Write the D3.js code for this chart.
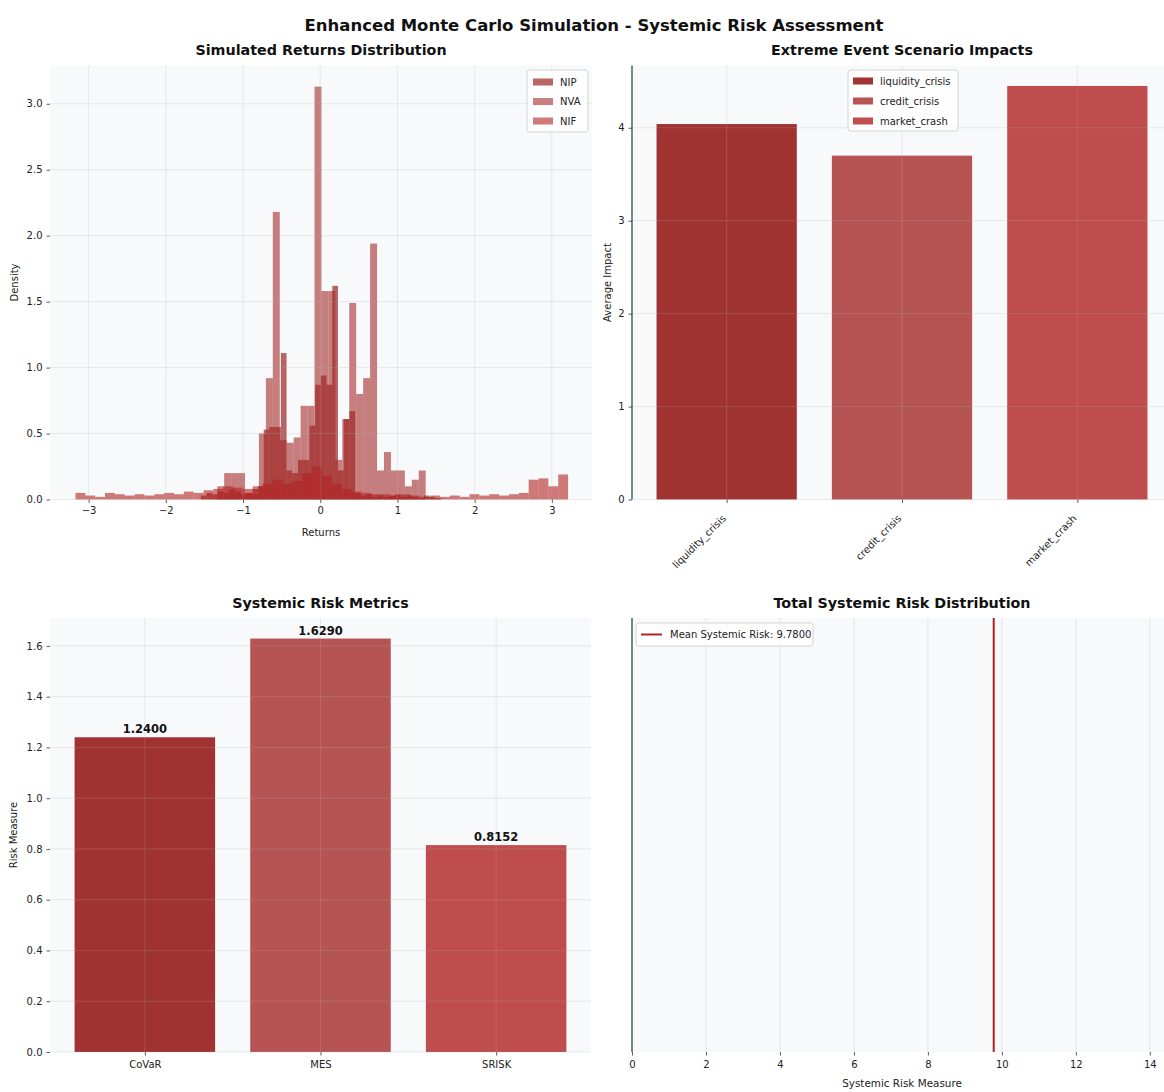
<!DOCTYPE html>
<html>
<head>
<meta charset="utf-8">
<script src="https://cdn.jsdelivr.net/npm/d3@7"></script>
<style>
  html, body { margin: 0; padding: 0; background: #ffffff; }
  svg { display: block; font-family: "DejaVu Sans", sans-serif; }
</style>
</head>
<body>
<svg id="chart" width="1164" height="1092"></svg>
<script>
// ---- Simulated return densities (histogram bins) ----
const returnSeries = ["NIP", "NVA", "NIF"];

const nipStart = -1.546, nipWidth = 0.074;
const nipDensity = [0.03, 0.05, 0.04, 0.06, 0.05, 0.08, 0.06, 0.04, 0.05, 0.08,
                    0.10, 0.53, 0.55, 0.55, 1.11, 0.22, 0.20, 0.30, 0.30, 0.56,
                    0.87, 0.94, 0.87, 1.62, 0.22, 0.61, 0.67, 0.05, 0.03, 0.04,
                    0.02, 0.03, 0.02, 0.03, 0.04, 0.02, 0.03, 0.02, 0.01, 0.03,
                    0.02, 0.01];

const nvaStart = -1.334, nvaWidth = 0.09;
const nvaDensity = [0.10, 0.20, 0.20, 0.20, 0.05, 0.04, 0.50, 0.92, 2.18, 0.45,
                    0.43, 0.47, 0.71, 0.71, 3.13, 1.58, 1.58, 0.30, 0.61, 1.49,
                    0.80, 0.92, 1.94, 0.22, 0.36, 0.22, 0.22, 0.10, 0.15, 0.22];

const nifStart = -3.17, nifWidth = 0.1276;
const nifDensity = [0.05, 0.03, 0.02, 0.05, 0.04, 0.03, 0.04, 0.03, 0.04, 0.05,
                    0.04, 0.06, 0.05, 0.07, 0.08, 0.10, 0.09, 0.08, 0.10, 0.12,
                    0.15, 0.12, 0.14, 0.20, 0.25, 0.18, 0.12, 0.08, 0.06, 0.05,
                    0.04, 0.04, 0.03, 0.04, 0.03, 0.02, 0.03, 0.02, 0.03, 0.02,
                    0.04, 0.03, 0.04, 0.03, 0.04, 0.05, 0.15, 0.16, 0.10, 0.19];

const returnTicks = [-3, -2, -1, 0, 1, 2, 3];
const densityTicks = [0.0, 0.5, 1.0, 1.5, 2.0, 2.5, 3.0];

// ---- Extreme event scenarios ----
const scenarios = ["liquidity_crisis", "credit_crisis", "market_crash"];
const scenarioImpact = [4.04, 3.70, 4.45];
const impactTicks = [0, 1, 2, 3, 4];

// ---- Systemic risk metrics ----
const metrics = ["CoVaR", "MES", "SRISK"];
const metricValues = [1.2400, 1.6290, 0.8152];
const metricTicks = [0.0, 0.2, 0.4, 0.6, 0.8, 1.0, 1.2, 1.4, 1.6];

// ---- Total systemic risk ----
const meanSystemicRisk = 9.78;
const systemicTicks = [0, 2, 4, 6, 8, 10, 12, 14];

// ---- Styling ----
const palette = ["#8B0000", "#A52A2A", "#B22222"];
const axesBg = "#f8f9fa";
const spineColor = "#4f6f6f";

const svg = d3.select("#chart");

function panelFrame(x0, x1, y0, y1) {
  svg.append("rect").attr("x", x0).attr("y", y0)
    .attr("width", x1 - x0).attr("height", y1 - y0).attr("fill", axesBg);
}

function gridX(g, scale, ticks, y0, y1) {
  g.selectAll(null).data(ticks).enter().append("line")
    .attr("x1", d => scale(d)).attr("x2", d => scale(d))
    .attr("y1", y0).attr("y2", y1)
    .attr("stroke", "#b0b0b0").attr("stroke-opacity", 0.3).attr("stroke-width", 0.8);
}
function gridY(g, scale, ticks, x0, x1) {
  g.selectAll(null).data(ticks).enter().append("line")
    .attr("y1", d => scale(d)).attr("y2", d => scale(d))
    .attr("x1", x0).attr("x2", x1)
    .attr("stroke", "#b0b0b0").attr("stroke-opacity", 0.3).attr("stroke-width", 0.8);
}

function styleAxis(g) {
  g.select(".domain").remove();
  g.selectAll(".tick line").attr("stroke", "#333").attr("stroke-width", 0.8);
  g.selectAll(".tick text").attr("fill", "#222").attr("font-size", 10)
    .attr("font-family", "DejaVu Sans");
}

function subTitle(text, cx, y) {
  svg.append("text").attr("x", cx).attr("y", y).attr("text-anchor", "middle")
    .attr("font-size", 14.3).attr("font-weight", "bold").attr("fill", "#111").text(text);
}

function legendBox(x, y, w, h) {
  svg.append("rect").attr("x", x).attr("y", y).attr("width", w).attr("height", h)
    .attr("rx", 3).attr("fill", "#ffffff").attr("fill-opacity", 0.8)
    .attr("stroke", "#cccccc").attr("stroke-width", 0.8);
}

// Main title
svg.append("text").attr("x", 594).attr("y", 31).attr("text-anchor", "middle")
  .attr("font-size", 16.5).attr("font-weight", "bold").attr("fill", "#111")
  .text("Enhanced Monte Carlo Simulation - Systemic Risk Assessment");

// ================= Panel 1: returns histogram =================
{
  const L = 50, R = 592, T = 65.5, B = 499.5;
  panelFrame(L, R, T, B);
  const x = d3.scaleLinear().domain([-3.5, 3.52]).range([L, R]);
  const y = d3.scaleLinear().domain([0, 3.29]).range([B, T]);

  const series = [
    { name: returnSeries[0], start: nipStart, width: nipWidth, values: nipDensity },
    { name: returnSeries[1], start: nvaStart, width: nvaWidth, values: nvaDensity },
    { name: returnSeries[2], start: nifStart, width: nifWidth, values: nifDensity }
  ];
  series.forEach((s, si) => {
    const bins = s.values.map((v, i) => ({ x0: s.start + i * s.width, x1: s.start + (i + 1) * s.width, v }));
    svg.append("g").selectAll("rect").data(bins).enter().append("rect")
      .attr("x", d => x(d.x0)).attr("width", d => x(d.x1) - x(d.x0))
      .attr("y", d => y(d.v)).attr("height", d => y(0) - y(d.v))
      .attr("fill", palette[si]).attr("fill-opacity", 0.6);
  });

  const grid = svg.append("g");
  gridX(grid, x, returnTicks, T, B);
  gridY(grid, y, densityTicks, L, R);

  const ax = svg.append("g").attr("transform", `translate(0,${B})`)
    .call(d3.axisBottom(x).tickValues(returnTicks).tickFormat(d3.format("d")).tickSize(3.5).tickPadding(4));
  styleAxis(ax);
  ax.selectAll(".tick text").text(d => d < 0 ? "\u2212" + Math.abs(d) : d);
  const ay = svg.append("g").attr("transform", `translate(${L},0)`)
    .call(d3.axisLeft(y).tickValues(densityTicks).tickFormat(d3.format(".1f")).tickSize(3.5).tickPadding(4));
  styleAxis(ay);

  svg.append("text").attr("x", (L + R) / 2).attr("y", 536).attr("text-anchor", "middle")
    .attr("font-size", 10).attr("fill", "#222").text("Returns");
  svg.append("text").attr("transform", `translate(18,${(T + B) / 2}) rotate(-90)`)
    .attr("text-anchor", "middle").attr("font-size", 10).attr("fill", "#222").text("Density");

  subTitle("Simulated Returns Distribution", (L + R) / 2, 55);

  legendBox(527, 70, 61, 62);
  returnSeries.forEach((n, i) => {
    const yy = 82 + i * 19.5;
    svg.append("rect").attr("x", 533).attr("y", yy - 3.5).attr("width", 20).attr("height", 7)
      .attr("fill", palette[i]).attr("fill-opacity", 0.6);
    svg.append("text").attr("x", 560).attr("y", yy + 3.5).attr("font-size", 10)
      .attr("fill", "#222").text(n);
  });
}

// ================= Panel 2: scenario impacts =================
{
  const L = 632, R = 1172, T = 65.5, B = 499.5;
  panelFrame(L, R, T, B);
  const x = d3.scaleLinear().domain([-0.54, 2.54]).range([L, R]);
  const y = d3.scaleLinear().domain([0, 4.67]).range([B, T]);

  svg.append("g").selectAll("rect").data(scenarioImpact).enter().append("rect")
    .attr("x", (d, i) => x(i - 0.4)).attr("width", (d, i) => x(i + 0.4) - x(i - 0.4))
    .attr("y", d => y(d)).attr("height", d => y(0) - y(d))
    .attr("fill", (d, i) => palette[i]).attr("fill-opacity", 0.8);

  const grid = svg.append("g");
  gridX(grid, x, [0, 1, 2], T, B);
  gridY(grid, y, impactTicks, L, R);

  svg.append("line").attr("x1", L).attr("x2", L).attr("y1", T).attr("y2", B)
    .attr("stroke", spineColor).attr("stroke-width", 1.6);

  const ax = svg.append("g").attr("transform", `translate(0,${B})`)
    .call(d3.axisBottom(x).tickValues([0, 1, 2]).tickFormat(i => scenarios[i]).tickSize(3.5).tickPadding(4));
  styleAxis(ax);
  ax.selectAll(".tick text")
    .attr("text-anchor", "end")
    .attr("x", 0).attr("y", 0).attr("dy", "0.35em")
    .attr("transform", "translate(-3,17) rotate(-45)");
  const ay = svg.append("g").attr("transform", `translate(${L},0)`)
    .call(d3.axisLeft(y).tickValues(impactTicks).tickFormat(d3.format("d")).tickSize(3.5).tickPadding(4));
  styleAxis(ay);

  svg.append("text").attr("transform", `translate(611,${(T + B) / 2}) rotate(-90)`)
    .attr("text-anchor", "middle").attr("font-size", 10).attr("fill", "#222").text("Average Impact");

  subTitle("Extreme Event Scenario Impacts", 902, 55);

  legendBox(848, 70, 110, 61);
  scenarios.forEach((n, i) => {
    const yy = 81 + i * 20;
    svg.append("rect").attr("x", 853).attr("y", yy - 3.5).attr("width", 20).attr("height", 7)
      .attr("fill", palette[i]).attr("fill-opacity", 0.8);
    svg.append("text").attr("x", 880).attr("y", yy + 3.5).attr("font-size", 10)
      .attr("fill", "#222").text(n);
  });
}

// ================= Panel 3: systemic risk metrics =================
{
  const L = 50, R = 591, T = 618, B = 1052;
  panelFrame(L, R, T, B);
  const x = d3.scaleLinear().domain([-0.54, 2.54]).range([L, R]);
  const y = d3.scaleLinear().domain([0, 1.71]).range([B, T]);

  svg.append("g").selectAll("rect").data(metricValues).enter().append("rect")
    .attr("x", (d, i) => x(i - 0.4)).attr("width", (d, i) => x(i + 0.4) - x(i - 0.4))
    .attr("y", d => y(d)).attr("height", d => y(0) - y(d))
    .attr("fill", (d, i) => palette[i]).attr("fill-opacity", 0.8);

  const grid = svg.append("g");
  gridX(grid, x, [0, 1, 2], T, B);
  gridY(grid, y, metricTicks, L, R);

  svg.append("g").selectAll("text").data(metricValues).enter().append("text")
    .attr("x", (d, i) => x(i)).attr("y", d => y(d) - 4)
    .attr("text-anchor", "middle").attr("font-size", 11.5).attr("font-weight", "bold")
    .attr("fill", "#111").text(d => d.toFixed(4));

  const ax = svg.append("g").attr("transform", `translate(0,${B})`)
    .call(d3.axisBottom(x).tickValues([0, 1, 2]).tickFormat(i => metrics[i]).tickSize(3.5).tickPadding(5));
  styleAxis(ax);
  const ay = svg.append("g").attr("transform", `translate(${L},0)`)
    .call(d3.axisLeft(y).tickValues(metricTicks).tickFormat(d3.format(".1f")).tickSize(3.5).tickPadding(4));
  styleAxis(ay);

  svg.append("text").attr("transform", `translate(17,${(T + B) / 2}) rotate(-90)`)
    .attr("text-anchor", "middle").attr("font-size", 10).attr("fill", "#222").text("Risk Measure");

  subTitle("Systemic Risk Metrics", (L + R) / 2, 608);
}

// ================= Panel 4: total systemic risk =================
{
  const L = 632, R = 1172, T = 618, B = 1052;
  panelFrame(L, R, T, B);
  const x = d3.scaleLinear().domain([0, 14.6]).range([L, R]);

  const grid = svg.append("g");
  gridX(grid, x, systemicTicks, T, B);

  svg.append("line").attr("x1", x(meanSystemicRisk)).attr("x2", x(meanSystemicRisk))
    .attr("y1", T).attr("y2", B).attr("stroke", "#B22222").attr("stroke-width", 2);

  svg.append("line").attr("x1", L).attr("x2", L).attr("y1", T).attr("y2", B)
    .attr("stroke", spineColor).attr("stroke-width", 1.6);

  const ax = svg.append("g").attr("transform", `translate(0,${B})`)
    .call(d3.axisBottom(x).tickValues(systemicTicks).tickFormat(d3.format("d")).tickSize(3.5).tickPadding(5));
  styleAxis(ax);

  svg.append("text").attr("x", 902).attr("y", 1087).attr("text-anchor", "middle")
    .attr("font-size", 10.4).attr("fill", "#222").text("Systemic Risk Measure");

  subTitle("Total Systemic Risk Distribution", 902, 608);

  legendBox(636, 623, 177, 23);
  svg.append("line").attr("x1", 641).attr("x2", 662).attr("y1", 634.5).attr("y2", 634.5)
    .attr("stroke", "#B22222").attr("stroke-width", 2);
  svg.append("text").attr("x", 670).attr("y", 638).attr("font-size", 10).attr("fill", "#222")
    .text("Mean Systemic Risk: " + meanSystemicRisk.toFixed(4));
}
</script>
</body>
</html>
